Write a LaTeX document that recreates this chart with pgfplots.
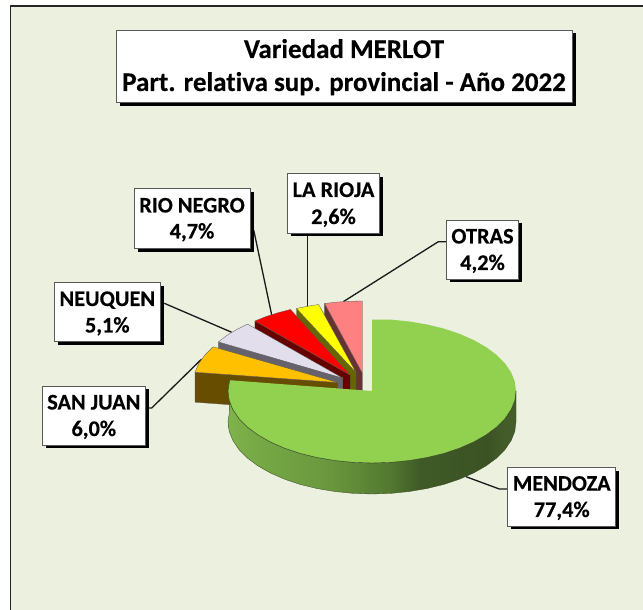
\documentclass[border=0pt]{standalone}
\usepackage{fontspec}
\setmainfont{Carlito}[Ligatures=NoCommon,BoldFeatures={FakeBold=0.35}]
\usepackage{pgfplots}
\pgfplotsset{compat=1.18}
\definecolor{panel}{HTML}{EBF0DF}
\definecolor{mtop}{HTML}{92D050}
\definecolor{sjtop}{HTML}{FFC000}
\definecolor{sjside}{HTML}{664D00}
\definecolor{nqtop}{HTML}{E2DEEB}
\definecolor{nqside}{HTML}{65626B}
\definecolor{rntop}{HTML}{FF0000}
\definecolor{rnside}{HTML}{660000}
\definecolor{lrtop}{HTML}{FFFF00}
\definecolor{lrside}{HTML}{666600}
\definecolor{ottop}{HTML}{FF8080}
\definecolor{otside}{HTML}{663333}
\definecolor{edge}{HTML}{555555}
\definecolor{greenedge}{HTML}{33441F}
\definecolor{msa}{HTML}{7FB34B}
\definecolor{msb}{HTML}{78AA46}
\definecolor{msc}{HTML}{6A973E}
\definecolor{msd}{HTML}{537831}
\definecolor{mse}{HTML}{3F5A27}
\definecolor{msf}{HTML}{3C5224}
\definecolor{msg}{HTML}{445C2A}
\pgfdeclarehorizontalshading{mendside}{100bp}{%
color(0bp)=(msa);color(25bp)=(msa);color(28.8bp)=(msb);%
color(42.7bp)=(msc);color(53.1bp)=(msd);color(58.3bp)=(mse);%
color(70bp)=(msf);color(73bp)=(msg);color(75bp)=(msg);color(100bp)=(msg)}
\newcommand{\lblfont}{\fontsize{22.3bp}{26bp}\selectfont\bfseries}
\newcommand{\ttlfont}{\fontsize{27bp}{32bp}\selectfont\bfseries}
\begin{document}
\begin{tikzpicture}
\begin{axis}[
  scale only axis, width=643bp, height=610bp,
  xmin=0, xmax=643, ymin=0, ymax=610, y dir=reverse,
  axis lines=none, clip=true, no marks,
  every axis plot/.append style={line join=round},
]
% page and panel
\addplot[fill=white, draw=none] coordinates {(0,0)(643,0)(643,610)(0,610)} -- cycle;
\addplot[fill=panel, draw=none] coordinates {(10.5,6)(643,6)(643,610)(10.5,610)} -- cycle;
\addplot[draw=black!85, line width=1.3bp] coordinates {(10.5,610)(10.5,6)(643,6)};

% leader lines
\addplot[draw=black!90, line width=1.3bp] coordinates {(253.7,230)(271.7,315)};
\addplot[draw=black!90, line width=1.3bp] coordinates {(164.3,303.3)(231.7,332.3)};
\addplot[draw=black!90, line width=1.3bp] coordinates {(148,408)(151.7,408)(201.7,359)};
\addplot[draw=black!90, line width=1.3bp] coordinates {(507.7,489)(499.3,489)(466,476.7)};
\addplot[draw=black!90, line width=1.3bp] coordinates {(307.7,235)(307.7,307)};
\addplot[draw=black!90, line width=1.3bp] coordinates {(446.3,241.7)(438.3,241.7)(343.3,301.7)};

% OTRAS 4,2
\addplot[fill=otside, draw=edge, line width=.3bp] coordinates {(324.6,303.5)(362.3,373)(362.3,403)(324.6,333.5)} -- cycle;
\addplot[fill=ottop, draw=edge, line width=.3bp] coordinates {(324.6,303.5)(337,302.1)(349.5,301.3)(362.3,301)(362.3,373)} -- cycle;
% LA RIOJA 2,6
\addplot[fill=lrside, draw=edge, line width=.3bp] coordinates {(296.5,308.5)(356,372.5)(356,402.5)(296.5,338.5)} -- cycle;
\addplot[fill=lrtop, draw=edge, line width=.3bp] coordinates {(296.5,308.5)(307.5,306.3)(318.6,304.5)(356,372.5)} -- cycle;
% RIO NEGRO 4,7
\addplot[fill=rnside, draw=edge, line width=.3bp] coordinates {(254.9,321)(350.2,375)(350.2,405)(254.9,351)} -- cycle;
\addplot[fill=rntop, draw=edge, line width=.3bp] coordinates {(254.9,321)(266,316.6)(277.8,312.8)(290.4,309.5)(350.2,375)} -- cycle;
% NEUQUEN 5,1
\addplot[fill=nqside, draw=edge, line width=.3bp] coordinates {(218.4,341.9)(342.8,378.1)(342.8,408.1)(218.4,371.9)} -- cycle;
\addplot[fill=nqtop, draw=edge, line width=.3bp] coordinates {(218.4,341.9)(226.7,335.5)(236.5,329.6)(247.5,324.1)(342.8,378.1)} -- cycle;
% SAN JUAN 6,0
\addplot[fill=sjside, draw=edge, line width=.3bp] coordinates {(195.1,372.2)(337.5,382.5)(337.5,412.5)(195.1,402.2)} -- cycle;
\addplot[fill=sjtop, draw=edge, line width=.3bp] coordinates {(195.1,372.2)(198.9,363.4)(204.9,354.9)(213.1,346.8)(337.5,382.5)} -- cycle;
% MENDOZA 77,4: side
\addplot[shade, shading=mendside, draw=greenedge, line width=.3bp] coordinates {
 (516,391)(514.8,400.4)(511.1,409.6)(505,418.6)(496.7,427)(486.2,434.8)(473.8,441.9)(459.7,448.1)(444,453.4)(427.1,457.5)(409.3,460.5)(390.8,462.4)(372,463)(353.2,462.4)(334.7,460.5)(316.9,457.5)(300,453.4)(284.3,448.1)(270.2,441.9)(257.8,434.8)(247.3,427)(239,418.6)(232.9,409.6)(229.2,400.4)(228,391)(229.6,380.2)
 (229.6,411.2)(228,422)(229.2,431.4)(232.9,440.6)(239,449.6)(247.3,458)(257.8,465.8)(270.2,472.9)(284.3,479.1)(300,484.4)(316.9,488.5)(334.7,491.5)(353.2,493.4)(372,494)(390.8,493.4)(409.3,491.5)(427.1,488.5)(444,484.4)(459.7,479.1)(473.8,472.9)(486.2,465.8)(496.7,458)(505,449.6)(511.1,440.6)(514.8,431.4)(516,422)} -- cycle;
% MENDOZA top
\addplot[fill=mtop, draw=none] coordinates {
 (372,391)(372,319.5)(390.8,319.6)(409.3,321.5)(427.1,324.5)(444,328.6)(459.7,333.9)(473.8,340.1)(486.2,347.2)(496.7,355)(505,363.4)(511.1,372.4)(514.8,381.6)(516,391)(514.8,400.4)(511.1,409.6)(505,418.6)(496.7,427)(486.2,434.8)(473.8,441.9)(459.7,448.1)(444,453.4)(427.1,457.5)(409.3,460.5)(390.8,462.4)(372,463)(353.2,462.4)(334.7,460.5)(316.9,457.5)(300,453.4)(284.3,448.1)(270.2,441.9)(257.8,434.8)(247.3,427)(239,418.6)(232.9,409.6)(229.2,400.4)(228,391)(229.6,380.2)} -- cycle;
\addplot[draw=greenedge, line width=.4bp] coordinates {(516,391)(514.8,400.4)(511.1,409.6)(505,418.6)(496.7,427)(486.2,434.8)(473.8,441.9)(459.7,448.1)(444,453.4)(427.1,457.5)(409.3,460.5)(390.8,462.4)(372,463)(353.2,462.4)(334.7,460.5)(316.9,457.5)(300,453.4)(284.3,448.1)(270.2,441.9)(257.8,434.8)(247.3,427)(239,418.6)(232.9,409.6)(229.2,400.4)(228,391)(229.6,380.2)};

% title box
\fill[black] (axis cs:119.5,33.5) rectangle (axis cs:576,106.5);
\draw[fill=white, draw=black!65, line width=.7bp] (axis cs:116,30) rectangle (axis cs:572.3,102.7);
\node[anchor=base, inner sep=0pt] at (axis cs:344,58) {\ttlfont Variedad MERLOT};
\node[anchor=base, inner sep=0pt] at (axis cs:344,91) {\ttlfont Part. relativa sup. provincial - Año 2022};

% RIO NEGRO
\fill[black] (axis cs:137.8,191.8) rectangle (axis cs:253.5,252.2);
\draw[fill=white, draw=black!65, line width=.7bp] (axis cs:134.3,188.3) rectangle (axis cs:250,248.7);
\node[anchor=base, inner sep=0pt] at (axis cs:192,212.5) {\lblfont RIO NEGRO};
\node[anchor=base, inner sep=0pt] at (axis cs:192,238.5) {\lblfont 4,7\%};
% NEUQUEN
\fill[black] (axis cs:57.8,286.2) rectangle (axis cs:163.8,345.2);
\draw[fill=white, draw=black!65, line width=.7bp] (axis cs:54.3,282.7) rectangle (axis cs:160.3,341.7);
\node[anchor=base, inner sep=0pt] at (axis cs:107.3,306) {\lblfont NEUQUEN};
\node[anchor=base, inner sep=0pt] at (axis cs:107.3,332.5) {\lblfont 5,1\%};
% SAN JUAN
\fill[black] (axis cs:45.8,389.5) rectangle (axis cs:148.8,448.5);
\draw[fill=white, draw=black!65, line width=.7bp] (axis cs:42.3,386) rectangle (axis cs:145.3,445);
\node[anchor=base, inner sep=0pt] at (axis cs:93.8,409.5) {\lblfont SAN JUAN};
\node[anchor=base, inner sep=0pt] at (axis cs:93.8,436) {\lblfont 6,0\%};
% LA RIOJA
\fill[black] (axis cs:291.2,176.8) rectangle (axis cs:382.8,236.5);
\draw[fill=white, draw=black!65, line width=.7bp] (axis cs:287.7,173.3) rectangle (axis cs:379.3,233);
\node[anchor=base, inner sep=0pt] at (axis cs:333.5,197) {\lblfont LA RIOJA};
\node[anchor=base, inner sep=0pt] at (axis cs:333.5,224) {\lblfont 2,6\%};
% OTRAS
\fill[black] (axis cs:449.8,223.5) rectangle (axis cs:522.2,282.5);
\draw[fill=white, draw=black!65, line width=.7bp] (axis cs:446.3,220) rectangle (axis cs:518.7,279);
\node[anchor=base, inner sep=0pt] at (axis cs:482.5,243.5) {\lblfont OTRAS};
\node[anchor=base, inner sep=0pt] at (axis cs:482.5,270) {\lblfont 4,2\%};
% MENDOZA
\fill[black] (axis cs:511.2,470.8) rectangle (axis cs:619.2,529.5);
\draw[fill=white, draw=black!65, line width=.7bp] (axis cs:507.7,467.3) rectangle (axis cs:615.7,526);
\node[anchor=base, inner sep=0pt] at (axis cs:561.7,490.7) {\lblfont MENDOZA};
\node[anchor=base, inner sep=0pt] at (axis cs:561.7,517) {\lblfont 77,4\%};
\end{axis}
\end{tikzpicture}
\end{document}
